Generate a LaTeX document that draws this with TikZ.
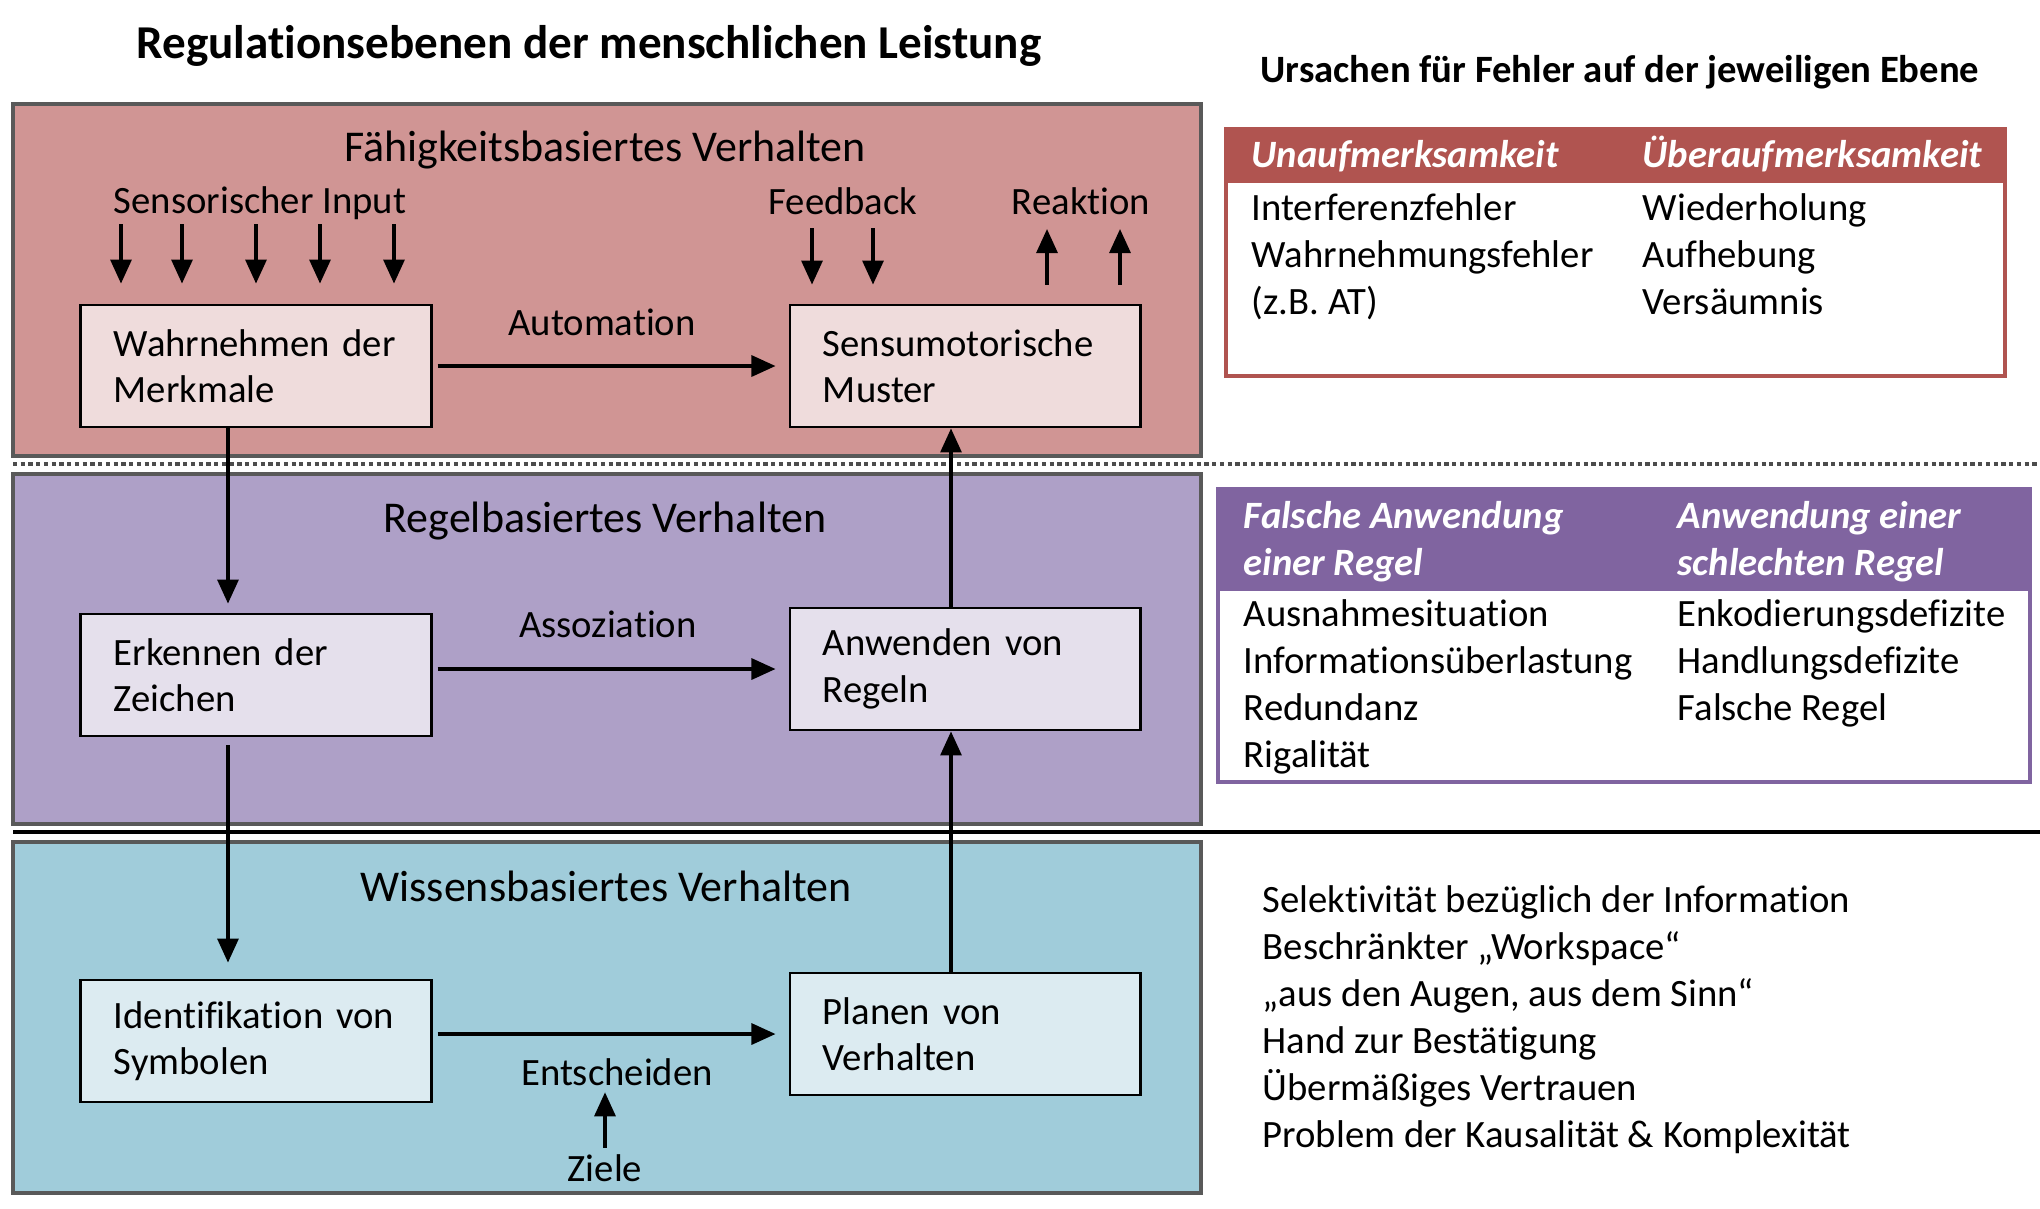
\documentclass[tikz,border=0pt]{standalone}
\usepackage{fontspec}
\setmainfont{Carlito}[Ligatures=NoCommon]
\usetikzlibrary{arrows.meta,positioning}
\definecolor{redband}{RGB}{208,149,148}
\definecolor{redbox}{RGB}{239,220,220}
\definecolor{redhead}{RGB}{176,84,80}
\definecolor{purpleband}{RGB}{174,160,199}
\definecolor{purplebox}{RGB}{229,224,236}
\definecolor{purplehead}{RGB}{128,100,160}
\definecolor{blueband}{RGB}{160,204,218}
\definecolor{bluebox}{RGB}{220,235,241}
\tikzset{
  txt/.style={inner sep=0pt,font=\fontsize{11}{13.2}\selectfont},
  cell/.style={txt,anchor=mid west,align=left},
  headcell/.style={cell,text=white,font=\fontsize{11}{13.2}\selectfont\bfseries\itshape},
  bandtitle/.style={inner sep=0pt,font=\fontsize{12.5}{15}\selectfont},
  band/.style={draw=black!65,line width=1pt},
  box/.style={draw,line width=0.8pt,minimum width=3.5cm,minimum height=1.22cm,
    text width=2.84cm,align=left,inner xsep=0.33cm,font=\fontsize{11}{13.2}\selectfont},
  flow/.style={-{Triangle[length=0.24cm,width=0.21cm]},line width=0.9pt},
}
\begin{document}
\begin{tikzpicture}[x=0.01cm,y=-0.01cm]
  \useasboundingbox (0,0) rectangle (2040,1208);

  % titles
  \node[inner sep=0pt,font=\fontsize{13.4}{16}\selectfont\bfseries] (maintitle) at (589,46)
    {Regulationsebenen der menschlichen Leistung};
  \node[inner sep=0pt,font=\fontsize{11}{13.2}\selectfont\bfseries] (causetitle) at (1620,72)
    {Ursachen für Fehler auf der jeweiligen Ebene};

  % bands
  \draw[band,fill=redband] (13,104) rectangle (1201,456);
  \draw[band,fill=purpleband] (13,474) rectangle (1201,824);
  \draw[band,fill=blueband] (13,842) rectangle (1201,1193);
  \draw[black!70,densely dotted,line width=1.2pt] (13,464) -- (2040,464);
  \draw[black,line width=0.9pt] (13,832) -- (2040,832);

  \node[bandtitle] (skill) at (605,150) {Fähigkeitsbasiertes Verhalten};
  \node[bandtitle] (rule) at (605,521) {Regelbasiertes Verhalten};
  \node[bandtitle] (know) at (606,886) {Wissensbasiertes Verhalten};

  % boxes
  \node[box,fill=redbox] (wahr) at (256,366) {Wahrnehmen der\\Merkmale};
  \node[box,fill=redbox] (sensu) at (965,366) {Sensumotorische\\Muster};
  \node[box,fill=purplebox] (erk) at (256,675) {Erkennen der\\Zeichen};
  \node[box,fill=purplebox] (anw) at (965,669) {Anwenden von\\Regeln};
  \node[box,fill=bluebox] (ident) at (256,1041) {Identifikation von\\Symbolen};
  \node[box,fill=bluebox] (plan) at (965,1034) {Planen von\\Verhalten};

  % labels
  \node[txt] (sensin) at (260,203) {Sensorischer Input};
  \node[txt] (feedback) at (843,201) {Feedback};
  \node[txt] (reakt) at (1081,201) {Reaktion};
  \node[txt] (autom) at (602,322) {Automation};
  \node[txt] (assoz) at (608,624) {Assoziation};
  \node[txt] (entsch) at (617,1072) {Entscheiden};
  \node[txt] (ziele) at (605,1168) {Ziele};

  % input, feedback and reaction arrows
  \foreach \x [count=\i] in {121,182,256,320,394}{
    \coordinate (in\i) at (\x,224);
    \draw[flow,shorten >=0.2cm] (in\i) -- (in\i |- wahr.north);
  }
  \foreach \x [count=\i] in {812,873}{
    \coordinate (fb\i) at (\x,228);
    \draw[flow,shorten >=0.19cm] (fb\i) -- (fb\i |- sensu.north);
  }
  \foreach \x [count=\i] in {1047,1120}{
    \coordinate (out\i) at (\x,229);
    \draw[flow,shorten <=0.19cm] (out\i |- sensu.north) -- (out\i);
  }

  % flows between the levels
  \draw[flow,shorten <=0.05cm,shorten >=0.13cm] (wahr.east) -- (sensu.west);
  \draw[flow,shorten <=0.05cm,shorten >=0.13cm] (erk.east |- anw.west) -- (anw.west);
  \draw[flow,shorten <=0.05cm,shorten >=0.13cm] (ident.east |- plan.west) -- (plan.west);
  \draw[flow,shorten >=0.09cm] ([xshift=-0.28cm]wahr.south) -- ([xshift=-0.28cm]erk.north);
  \draw[flow,shorten <=0.08cm,shorten >=0.16cm] ([xshift=-0.28cm]erk.south) -- ([xshift=-0.28cm]ident.north);
  \draw[flow] ([xshift=-0.14cm]plan.north) -- ([xshift=-0.14cm]anw.south);
  \draw[flow] ([xshift=-0.14cm]anw.north) -- ([xshift=-0.14cm]sensu.south);
  \draw[flow,shorten <=0.06cm,shorten >=0.06cm] (ziele.north) -- (ziele.north |- entsch.south);

  % table for skill level
  \fill[redhead] (1226,129) rectangle (2005,183);
  \draw[redhead,line width=1.3pt] (1226,129) rectangle (2005,376);
  \node[headcell] (unauf) at (1251,159) {Unaufmerksamkeit};
  \node[headcell] (ueber) at (1642,159) {Überaufmerksamkeit};
  \foreach \t [count=\i] in {Interferenzfehler,Wahrnehmungsfehler,(z.B. AT)}
    \node[cell] (ra\i) at (1251,165+47*\i) {\t};
  \foreach \t [count=\i] in {Wiederholung,Aufhebung,Versäumnis}
    \node[cell] (rb\i) at (1642,165+47*\i) {\t};

  % table for rule level
  \fill[purplehead] (1218,489) rectangle (2030,591);
  \draw[purplehead,line width=1.3pt] (1218,489) rectangle (2030,782);
  \node[headcell] (falsch) at (1243,567) {Falsche Anwendung\\einer Regel};
  \node[headcell] (schlecht) at (1677,567) {Anwendung einer\\schlechten Regel};
  \foreach \t [count=\i] in {Ausnahmesituation,Informationsüberlastung,Redundanz,Rigalität}
    \node[cell] (pa\i) at (1243,571+47*\i) {\t};
  \foreach \t [count=\i] in {Enkodierungsdefizite,Handlungsdefizite,Falsche Regel}
    \node[cell] (pb\i) at (1677,571+47*\i) {\t};

  % list for knowledge level
  \foreach \t [count=\i] in {Selektivität bezüglich der Information,
      Beschränkter „Workspace“,{„aus den Augen, aus dem Sinn“},
      Hand zur Bestätigung,Übermäßiges Vertrauen,
      Problem der Kausalität \& Komplexität}
    \node[cell] (kb\i) at (1262,857+47*\i) {\t};
\end{tikzpicture}
\end{document}
